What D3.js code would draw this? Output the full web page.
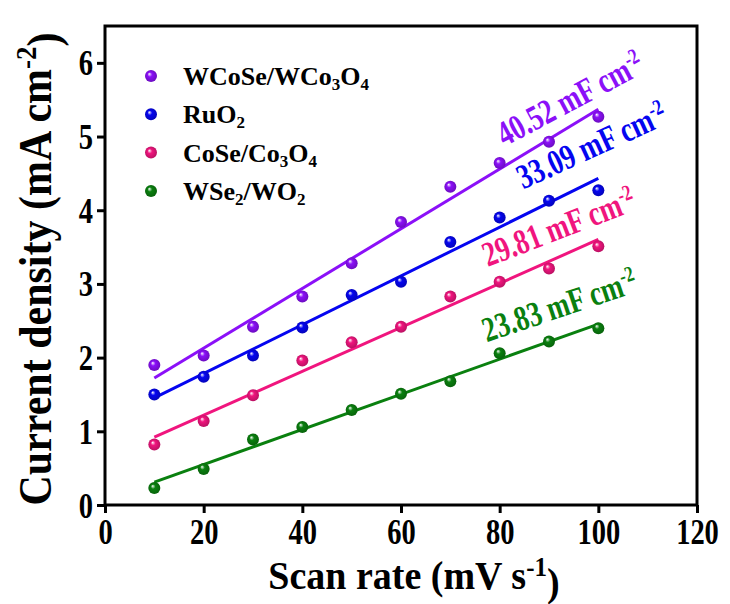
<!DOCTYPE html>
<html>
<head>
<meta charset="utf-8">
<script src="https://cdn.jsdelivr.net/npm/d3@7/dist/d3.min.js"></script>
<style>
  html, body { margin: 0; padding: 0; background: #fff; }
  svg text { font-family: "Liberation Serif", "Times New Roman", serif; font-weight: bold; }
</style>
</head>
<body>
<svg id="chart" width="730" height="604"></svg>
<script>
// ---- data ----
const scanRates = [10, 20, 30, 40, 50, 60, 70, 80, 90, 100];
const seriesNames = ["WCoSe/WCo3O4", "RuO2", "CoSe/Co3O4", "WSe2/WO2"];
const wcoseValues = [1.90, 2.03, 2.42, 2.83, 3.28, 3.84, 4.32, 4.64, 4.93, 5.27];
const ruo2Values  = [1.50, 1.74, 2.03, 2.41, 2.85, 3.03, 3.57, 3.90, 4.13, 4.27];
const coseValues  = [0.82, 1.14, 1.49, 1.96, 2.21, 2.42, 2.83, 3.03, 3.21, 3.51];
const wse2Values  = [0.23, 0.49, 0.89, 1.06, 1.29, 1.51, 1.68, 2.06, 2.22, 2.40];
const capacitances = [40.52, 33.09, 29.81, 23.83]; // mF cm^-2 (fit slopes)
const xTicks = [0, 20, 40, 60, 80, 100, 120];
const yTicks = [0, 1, 2, 3, 4, 5, 6];

// ---- style / layout ----
const colors = ["#8B10F8", "#0505F0", "#F0157E", "#0A800F"];
const legendParts = [
  [["WCoSe/WCo", ""], ["3", "sub"], ["O", ""], ["4", "sub"]],
  [["RuO", ""], ["2", "sub"]],
  [["CoSe/Co", ""], ["3", "sub"], ["O", ""], ["4", "sub"]],
  [["WSe", ""], ["2", "sub"], ["/WO", ""], ["2", "sub"]]
];
// label anchor (data coords) and rotation
const labelPos = [
  {x: 81.0, y: 4.86, rot: -28},
  {x: 84.8, y: 4.28, rot: -24.5},
  {x: 77.6, y: 3.23, rot: -21},
  {x: 77.4, y: 2.21, rot: -18.5}
];

const allValues = [wcoseValues, ruo2Values, coseValues, wse2Values];

const svg = d3.select("#chart");
const L = 105, R = 697, T = 26, B = 505;
const x = d3.scaleLinear().domain([0, 120]).range([L, R]);
const y = d3.scaleLinear().domain([0, 6.5]).range([B, T]);

// gradients for sphere markers
const defs = svg.append("defs");
colors.forEach((c, i) => {
  const g = defs.append("radialGradient").attr("id", "sph" + i)
    .attr("cx", "50%").attr("cy", "50%").attr("r", "55%")
    .attr("fx", "35%").attr("fy", "32%");
  g.append("stop").attr("offset", "0%").attr("stop-color", "#ffffff");
  g.append("stop").attr("offset", "35%").attr("stop-color", c);
  g.append("stop").attr("offset", "100%").attr("stop-color", d3.color(c).darker(0.8));
});

// axes
const xAxis = d3.axisBottom(x).tickValues(xTicks).tickFormat(d3.format("d")).tickSize(8).tickSizeOuter(0);
const yAxis = d3.axisLeft(y).tickValues(yTicks).tickFormat(d3.format("d")).tickSize(8).tickSizeOuter(0);
const gx = svg.append("g").attr("transform", `translate(0,${B})`).call(xAxis);
const gy = svg.append("g").attr("transform", `translate(${L},0)`).call(yAxis);
[gx, gy].forEach(g => {
  g.select(".domain").remove();
  g.selectAll(".tick line").attr("stroke", "#000").attr("stroke-width", 3);
  g.selectAll(".tick text").attr("fill", "#000").style("font-size", "28.5px")
    .style("font-family", "'Liberation Serif', serif").style("font-weight", "bold")
    .attr("x", 0).attr("y", 0).attr("dy", null);
});
gx.selectAll(".tick text").attr("transform", "translate(0,39) scale(1,1.25)");
gy.selectAll(".tick text").attr("transform", "translate(-12,12) scale(1,1.28)");

// frame
svg.append("rect").attr("x", L).attr("y", T).attr("width", R - L).attr("height", B - T)
  .attr("fill", "none").attr("stroke", "#000").attr("stroke-width", 3);

// fit lines
const mx = d3.mean(scanRates);
allValues.forEach((vals, i) => {
  const slope = capacitances[i] / 1000;
  const b = d3.mean(vals) - slope * mx;
  const x0 = d3.min(scanRates), x1 = d3.max(scanRates);
  svg.append("line")
    .attr("x1", x(x0)).attr("y1", y(slope * x0 + b))
    .attr("x2", x(x1)).attr("y2", y(slope * x1 + b))
    .attr("stroke", colors[i]).attr("stroke-width", 3);
});

// points
allValues.forEach((vals, i) => {
  svg.append("g").selectAll("circle").data(vals).join("circle")
    .attr("cx", (d, j) => x(scanRates[j])).attr("cy", d => y(d))
    .attr("r", 6).attr("fill", `url(#sph${i})`);
});

// slope labels
capacitances.forEach((c, i) => {
  const p = labelPos[i];
  const t = svg.append("text")
    .attr("transform", `translate(${x(p.x)},${y(p.y)}) rotate(${p.rot}) scale(1,1.3)`)
    .attr("fill", colors[i]).style("font-size", "27px");
  t.append("tspan").text(c.toFixed(2) + " mF cm");
  t.append("tspan").text("-2").attr("dy", "-0.55em").style("font-size", "17px");
});

// legend
legendParts.forEach((parts, i) => {
  const cy = 76 + i * 38.3;
  svg.append("circle").attr("cx", 151).attr("cy", cy).attr("r", 6).attr("fill", `url(#sph${i})`);
  const t = svg.append("text").attr("x", 183).attr("y", cy + 9).attr("fill", "#000").style("font-size", "26px");
  let prev = "";
  parts.forEach(([s, k]) => {
    const ts = t.append("tspan").text(s);
    if (k === "sub") { ts.style("font-size", "17px").attr("dy", prev === "sub" ? 0 : "0.3em"); }
    else if (prev === "sub") { ts.attr("dy", "-0.2em"); }
    prev = k;
  });
});

// axis titles
const xt = svg.append("text").attr("transform", "translate(414,589) scale(1,1.06)")
  .attr("text-anchor", "middle").attr("fill", "#000").style("font-size", "38px");
xt.append("tspan").text("Scan rate (mV s");
xt.append("tspan").text("-1").attr("dy", "-0.5em").style("font-size", "25px");
xt.append("tspan").text(")").attr("dy", "0.5em").style("font-size", "38px");

const yt = svg.append("text").attr("transform", "translate(51,269) rotate(-90) scale(1,1.1)")
  .attr("text-anchor", "middle").attr("fill", "#000").style("font-size", "42px");
yt.append("tspan").text("Current density (mA cm");
yt.append("tspan").text("-2").attr("dy", "-0.5em").style("font-size", "27px");
yt.append("tspan").text(")").attr("dy", "0.5em").style("font-size", "42px");
</script>
</body>
</html>
